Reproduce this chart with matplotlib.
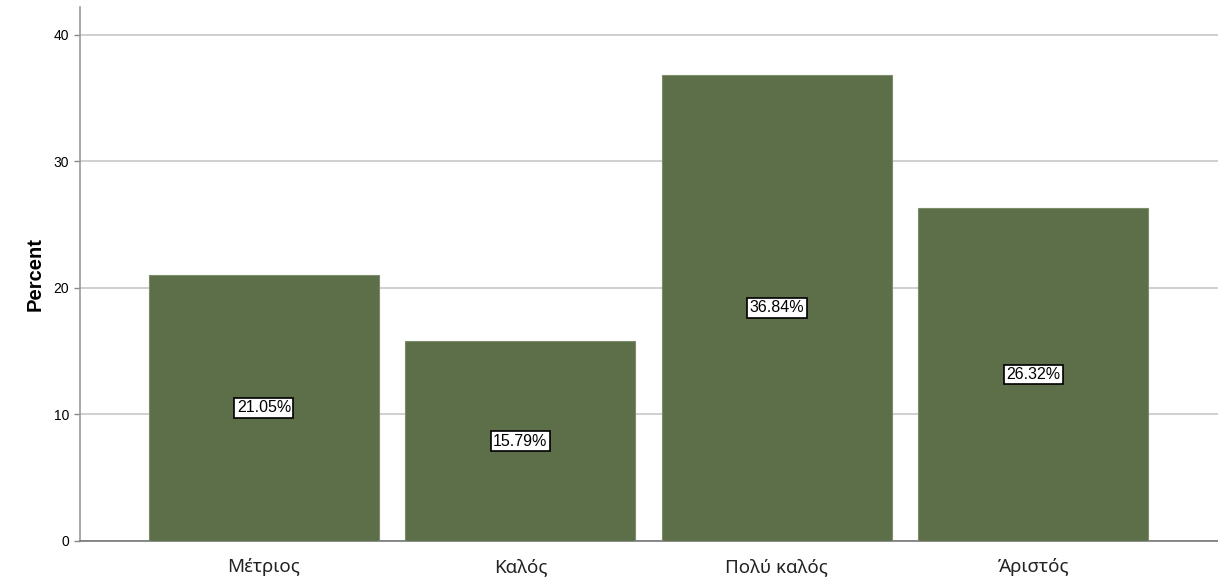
import matplotlib
matplotlib.use("Agg")
import matplotlib.pyplot as plt

categories = ["Μέτριος", "Καλός", "Πολύ καλός", "Άριστός"]
percents = [21.05, 15.79, 36.84, 26.32]
yticks = [0, 10, 20, 30, 40]

bar_color = "#5c6f48"

fig = plt.figure(figsize=(12.18, 5.81), dpi=100)
ax = fig.add_axes([80 / 1218, 40 / 581, 1138 / 1218, 534 / 581])

x = list(range(len(categories)))
ax.bar(x, percents, width=0.897, color=bar_color, edgecolor="#7d8c6c",
       linewidth=0.8, zorder=3)

for xi, v in zip(x, percents):
    ax.text(xi, v / 2, f"{v:.2f}%", ha="center", va="center", fontsize=11.5,
            family="Liberation Sans", zorder=4,
            bbox=dict(boxstyle="square,pad=0.15", facecolor="white",
                      edgecolor="black", linewidth=1.2))

ax.set_xlim(-0.717, 3.72)
ax.set_ylim(0, 42.2)
ax.set_yticks(yticks)
ax.set_yticklabels([str(t) for t in yticks], fontsize=10, family="Liberation Sans")
ax.set_xticks(x)
ax.set_xticklabels(categories, fontsize=13.5, family="Noto Sans", color="#222222")
ax.tick_params(axis="x", length=0, pad=12)
ax.tick_params(axis="y", length=4, color="#888888", width=1, pad=4)

ax.yaxis.grid(True, color="#cccccc", linewidth=1.3, zorder=0)
ax.set_axisbelow(True)

for s in ["top", "right"]:
    ax.spines[s].set_visible(False)
ax.spines["left"].set_color("#999999")
ax.spines["left"].set_linewidth(1.2)
ax.spines["bottom"].set_color("#777777")
ax.spines["bottom"].set_linewidth(1.2)

ax.set_ylabel("Percent", fontsize=14.5, fontweight="bold", family="Liberation Sans",
              labelpad=6)

fig.savefig("out.png", dpi=100, facecolor="white")
